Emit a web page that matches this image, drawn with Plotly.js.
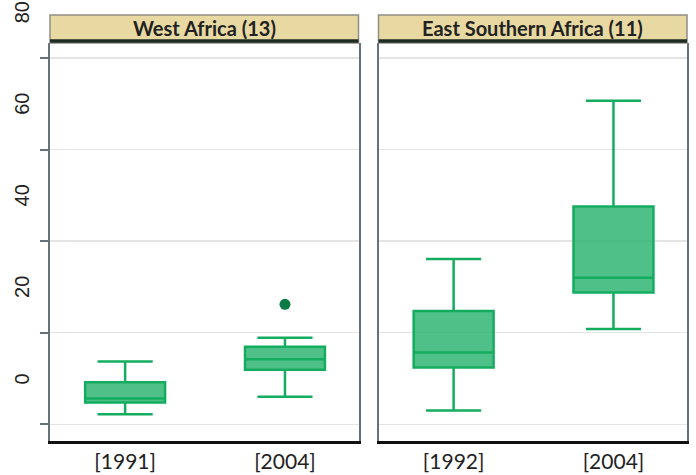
<!DOCTYPE html>
<html>
<head>
<meta charset="utf-8">
<script src="https://cdn.plot.ly/plotly-3.0.1.min.js"></script>
<style>html,body{margin:0;padding:0;background:#fff;}#chart{width:696px;height:475px;}</style>
</head>
<body>
<div id="chart"></div>
<script>
// ---- data ----
const panelTitles = ['West Africa (13)', 'East Southern Africa (11)'];
const westYears = ['[1991]', '[2004]'];
const westLower = [-7.8, -4.0];
const westQ1 = [-5.25, 1.9];
const westMedian = [-4.4, 4.2];
const westQ3 = [-0.8, 6.95];
const westUpper = [3.7, 8.9];
const westOutlierYears = ['[2004]'];
const westOutliers = [16.2];

const eastYears = ['[1992]', '[2004]'];
const eastLower = [-7.0, 10.8];
const eastQ1 = [2.4, 18.8];
const eastMedian = [5.7, 22.0];
const eastQ3 = [14.75, 37.55];
const eastUpper = [26.1, 60.7];

const yLabelValues = [0, 20, 40, 60, 80];
const yGridValues = [-10, 10, 30, 50, 70];

// ---- layout constants ----
const yRange = [-13.66, 73.3];
const xRange = [-0.47, 1.46];
const W = 696, H = 475;
const M = {l: 50, r: 9, t: 43, b: 34};
const plotW = W - M.l - M.r, plotH = H - M.t - M.b;
const gap = 20;
const panelW = (plotW - gap) / 2;
const dom1 = [0, panelW / plotW];
const dom2 = [(panelW + gap) / plotW, 1];
const toPaperY = v => (v - yRange[0]) / (yRange[1] - yRange[0]);

const boxLine = '#14ad5f';
const boxFill = 'rgba(40,178,110,0.82)';

function boxTrace(xs, lo, q1, med, q3, hi, xa, ya) {
  return {
    type: 'box', x: xs, lowerfence: lo, q1: q1, median: med, q3: q3, upperfence: hi,
    xaxis: xa, yaxis: ya, width: 0.5, whiskerwidth: 0.69, boxpoints: false,
    line: {color: boxLine, width: 2.5}, fillcolor: boxFill, showlegend: false, hoverinfo: 'skip'
  };
}

const traces = [
  boxTrace(westYears, westLower, westQ1, westMedian, westQ3, westUpper, 'x', 'y'),
  {type: 'scatter', mode: 'markers', x: westOutlierYears, y: westOutliers, xaxis: 'x', yaxis: 'y',
   marker: {color: '#0b7a44', size: 11, symbol: 'circle', line: {width: 0}}, showlegend: false, hoverinfo: 'skip'},
  boxTrace(eastYears, eastLower, eastQ1, eastMedian, eastQ3, eastUpper, 'x2', 'y2')
];

const xAxisBase = {
  type: 'category', range: xRange, showgrid: false, zeroline: false,
  showline: true, linecolor: '#111', linewidth: 3, ticks: '', fixedrange: true,
  tickfont: {family: 'Lato, sans-serif', size: 21, color: '#222'}
};
const yAxisBase = {
  range: yRange, tickvals: yGridValues, showticklabels: false, zeroline: false,
  showgrid: true, gridcolor: '#e4e4e4', gridwidth: 1.5,
  showline: true, mirror: true, linecolor: '#66727a', linewidth: 2, fixedrange: true
};

const shapes = [];
const annotations = [];
const doms = [dom1, dom2];
const stripTop = 1 + 28 / plotH;
doms.forEach((d, i) => {
  shapes.push({type: 'rect', xref: 'paper', yref: 'paper', x0: d[0], x1: d[1], y0: 1, y1: stripTop,
    fillcolor: '#e8d9a2', line: {color: '#8f8f88', width: 1.5}, layer: 'above'});
  shapes.push({type: 'line', xref: 'paper', yref: 'paper', x0: d[0], x1: d[1], y0: 1 + 2 / plotH, y1: 1 + 2 / plotH,
    line: {color: '#1e2d24', width: 3.5}, layer: 'above'});
  annotations.push({xref: 'paper', yref: 'paper', x: (d[0] + d[1]) / 2, y: 1 + 15 / plotH,
    text: '<b>' + panelTitles[i] + '</b>', showarrow: false, xanchor: 'center', yanchor: 'middle',
    font: {family: 'Lato, sans-serif', size: 20, color: '#222'}});
});
yLabelValues.forEach(v => {
  annotations.push({xref: 'paper', yref: 'paper', x: -28 / plotW, y: toPaperY(v), text: String(v),
    showarrow: false, textangle: -90, xanchor: 'center', yanchor: 'middle',
    font: {family: 'Liberation Sans, Arial, sans-serif', size: 20, color: '#222'}});
});

const layout = {
  width: W, height: H, margin: M, paper_bgcolor: '#fff', plot_bgcolor: '#fff', showlegend: false,
  xaxis: Object.assign({}, xAxisBase, {domain: dom1, anchor: 'y'}),
  xaxis2: Object.assign({}, xAxisBase, {domain: dom2, anchor: 'y2'}),
  yaxis: Object.assign({}, yAxisBase, {anchor: 'x', ticks: 'outside', ticklen: 8, tickwidth: 2, tickcolor: '#66727a'}),
  yaxis2: Object.assign({}, yAxisBase, {anchor: 'x2', ticks: ''}),
  shapes: shapes, annotations: annotations
};

Plotly.newPlot('chart', traces, layout, {staticPlot: true, displayModeBar: false});
</script>
</body>
</html>
